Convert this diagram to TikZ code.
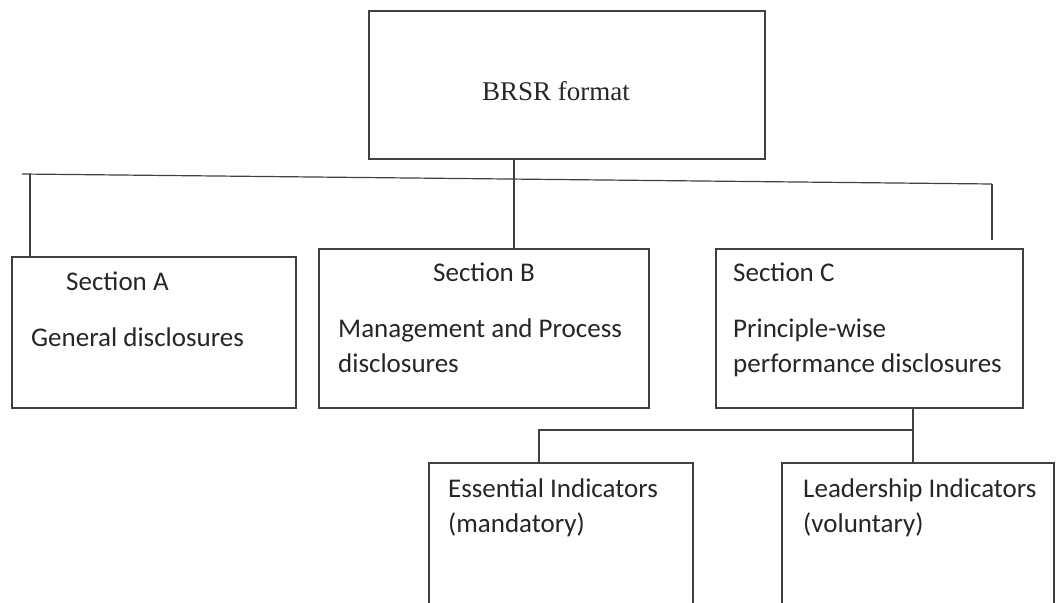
\documentclass[tikz,border=0pt]{standalone}
\usepackage{fontspec}
\setmainfont{Liberation Serif}
\newfontfamily\calfont{Carlito}
\usepackage{tikz}
\tikzset{
  box/.style={draw=black!75, line width=1.2pt, rectangle, inner sep=0pt},
  txt/.style={anchor=base west, inner sep=0pt, text=black!85, font=\calfont\fontsize{27}{35}\selectfont},
  link/.style={draw=black!75, line width=1.2pt}
}

\begin{document}
\begin{tikzpicture}[x=1pt, y=-1pt]
    \useasboundingbox (0,0) rectangle (1056,602);
    \clip (0,0) rectangle (1056,602);
    % Draw the top box
    \node[box, minimum width=396pt, minimum height=148pt] (brsr) at (567,85) {};
    \node[anchor=base west, inner sep=0pt, text=black!85, font=\fontsize{27}{32}\selectfont] (brsrtxt) at (482,100) {BRSR format};
    % Draw the section boxes
    \node[box, minimum width=284pt, minimum height=151pt] (secA) at (154,332.5) {};
    \node[box, minimum width=330pt, minimum height=159pt] (secB) at (484,328.5) {};
    \node[box, minimum width=307pt, minimum height=159pt] (secC) at (869.5,328.5) {};
    \node[txt] (secAhead) at (66,290) {Section A};
    \node[txt] (secAtxt) at (31,346) {General disclosures};
    \node[txt] (secBhead) at (433,281) {Section B};
    \node[txt, align=left] (secBtxt) at (338,372) {Management and Process\\disclosures};
    \node[txt] (secChead) at (733,281) {Section C};
    \node[txt, align=left] (secCtxt) at (733,372) {Principle-wise\\performance disclosures};
    % Draw the indicator boxes (cut off at the bottom)
    \node[box, minimum width=264pt, minimum height=200pt] (ess) at (561,563) {};
    \node[box, minimum width=272pt, minimum height=200pt] (lead) at (918,563) {};
    \node[txt, align=left] (esstxt) at (448,532) {Essential Indicators\\(mandatory)};
    \node[txt, align=left] (leadtxt) at (803,532) {Leadership Indicators\\(voluntary)};
    % Connectors from the top box
    \coordinate (busL) at (22,174);
    \coordinate (busR) at (992,184);
    \coordinate (busA) at (30,174.1);
    \coordinate (dropR) at (992,240);
    \draw[link] (busL) -- (busR);
    \draw[link] (busA) -- (busA |- secA.north);
    \draw[link] (brsr.south -| 514,0) -- (secB.north -| 514,0);
    \draw[link] (busR) -- (dropR);
    % Connectors from Section C
    \coordinate (forkC) at (913,430);
    \draw[link] (secC.south -| forkC) -- (lead.north -| forkC);
    \draw[link] (forkC) -- (539,430) -- (ess.north -| 539,0);
\end{tikzpicture}
\end{document}
